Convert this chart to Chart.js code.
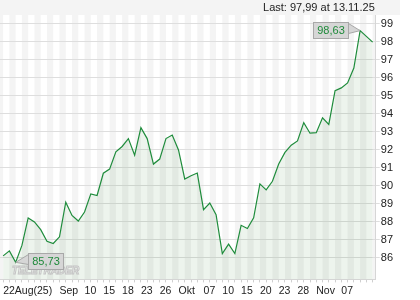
<!DOCTYPE html>
<html>
<head>
<meta charset="utf-8">
<script src="https://cdn.jsdelivr.net/npm/chart.js@4.4.1/dist/chart.umd.min.js"></script>
<style>
    html, body { margin: 0; padding: 0; background: #fff; }
    #wrap { width: 400px; height: 300px; }
</style>
</head>
<body>
<div id="wrap"><canvas id="chart" width="400" height="300"></canvas></div>
<script>
// trading days, 22.08.25 - 13.11.25
const dates = [
    '22.08.25', '25.08.25', '26.08.25', '27.08.25', '28.08.25', '29.08.25',
    '01.09.25', '02.09.25', '03.09.25', '04.09.25', '05.09.25',
    '08.09.25', '09.09.25', '10.09.25', '11.09.25', '12.09.25',
    '15.09.25', '16.09.25', '17.09.25', '18.09.25', '19.09.25',
    '22.09.25', '23.09.25', '24.09.25', '25.09.25', '26.09.25',
    '29.09.25', '30.09.25', '01.10.25', '02.10.25', '03.10.25',
    '06.10.25', '07.10.25', '08.10.25', '09.10.25', '10.10.25',
    '13.10.25', '14.10.25', '15.10.25', '16.10.25', '17.10.25',
    '20.10.25', '21.10.25', '22.10.25', '23.10.25', '24.10.25',
    '27.10.25', '28.10.25', '29.10.25', '30.10.25', '31.10.25',
    '03.11.25', '04.11.25', '05.11.25', '06.11.25', '07.11.25',
    '10.11.25', '11.11.25', '12.11.25', '13.11.25'
];
const closes = [
    86.09, 86.37, 85.73, 86.67, 88.20, 87.98,
    87.55, 86.90, 86.78, 87.15, 89.08,
    88.34, 88.03, 88.53, 89.54, 89.45,
    90.69, 90.92, 91.88, 92.18, 92.62,
    91.70, 93.23, 92.62, 91.20, 91.48,
    92.62, 92.82, 91.99, 90.37, 90.55,
    90.70, 88.66, 89.03, 88.38, 86.22,
    86.74, 86.22, 87.79, 87.61, 88.21,
    90.10, 89.76, 90.24, 91.20, 91.85,
    92.25, 92.49, 93.51, 92.92, 92.95,
    93.78, 93.41, 95.29, 95.44, 95.72,
    96.55, 98.63, 98.31, 97.99
];
// x tick labels (index into dates -> text)
const xTickIdx = [0, 9, 13, 16, 19, 22, 25, 28, 32, 35, 38, 41, 44, 47, 50, 54];
const xTickText = ['22Aug(25)', 'Sep', '10', '15', '18', '23', '26', 'Okt', '07', '10', '15', '20', '23', '28', 'Nov', '07'];
const yTicks = [86, 87, 88, 89, 90, 91, 92, 93, 94, 95, 96, 97, 98, 99];

const FONT = '"Liberation Sans", Arial, sans-serif';
const fmt = v => v.toFixed(2).replace('.', ',');

// striped background + header line
const backdrop = {
    id: 'backdrop',
    beforeDraw(chart) {
        const { ctx, chartArea: a, scales: { x } } = chart;
        const n = closes.length;
        ctx.save();
        ctx.fillStyle = '#fff';
        ctx.fillRect(0, 0, chart.width, chart.height);
        ctx.fillStyle = '#f4f4f4';
        ctx.fillRect(0, 0, chart.width, a.top);
        for (let i = -1; i < n; i++) {
            if (i % 2 === 0) continue;
            const x0 = i < 0 ? a.left : x.getPixelForValue(i);
            const x1 = i + 1 < n ? x.getPixelForValue(i + 1) : a.right;
            ctx.fillRect(x0, a.top, x1 - x0, a.bottom - a.top);
        }
        ctx.fillStyle = '#222';
        ctx.font = '11px ' + FONT;
        ctx.textAlign = 'right';
        ctx.textBaseline = 'middle';
        ctx.fillText('Last: ' + fmt(closes[n - 1]) + ' at ' + dates[n - 1], a.right - 1, 8);
        ctx.restore();
    }
};

// min / max callouts and watermark
const callouts = {
    id: 'callouts',
    afterDatasetsDraw(chart) {
        const { ctx, scales: { x, y } } = chart;
        const lo = closes.indexOf(Math.min(...closes));
        const hi = closes.indexOf(Math.max(...closes));

        ctx.save();
        ctx.font = 'bold italic 10px ' + FONT;
        ctx.textAlign = 'left';
        ctx.textBaseline = 'middle';
        ctx.lineWidth = 1;
        ctx.strokeStyle = '#c4c4c4';
        ctx.fillStyle = 'rgba(255,255,255,0.7)';
        ctx.fillText('TELETRADER', 12, 271);
        ctx.strokeText('TELETRADER', 12, 271);
        ctx.restore();

        const draw = (idx, toRight) => {
            const px = x.getPixelForValue(idx);
            const py = y.getPixelForValue(closes[idx]);
            const w = 35, h = 16;
            const top = Math.round(py - 9) + 0.5;
            const left = toRight ? Math.round(px + 12) + 0.5 : Math.round(px - 12 - w) + 0.5;
            const edge = toRight ? left : left + w;
            ctx.save();
            ctx.fillStyle = '#d6d6d6';
            ctx.strokeStyle = '#a8a8a8';
            ctx.lineWidth = 1;
            ctx.beginPath();
            ctx.moveTo(edge, top + 1);
            ctx.lineTo(px, py);
            ctx.lineTo(edge, top + 11);
            ctx.closePath();
            ctx.fill();
            ctx.stroke();
            ctx.fillRect(left, top, w, h);
            ctx.strokeRect(left, top, w, h);
            ctx.fillStyle = '#1f8a3a';
            ctx.font = '11px ' + FONT;
            ctx.textAlign = 'center';
            ctx.textBaseline = 'middle';
            ctx.fillText(fmt(closes[idx]), left + w / 2, top + h / 2 + 0.5);
            ctx.restore();
        };
        draw(lo, true);
        draw(hi, false);
    }
};

Chart.defaults.font.family = FONT;
Chart.defaults.font.size = 11;
Chart.defaults.color = '#222';

new Chart(document.getElementById('chart'), {
    type: 'line',
    data: {
        labels: dates,
        datasets: [{
            data: closes,
            borderColor: '#1f8c3c',
            borderWidth: 1.2,
            backgroundColor: 'rgba(30,120,30,0.08)',
            fill: 'start',
            pointRadius: 0,
            tension: 0
        }]
    },
    options: {
        responsive: false,
        animation: false,
        devicePixelRatio: 1,
        layout: { padding: { top: 15, right: 6, bottom: 1, left: 0 } },
        plugins: {
            legend: { display: false },
            tooltip: { enabled: false }
        },
        scales: {
            x: {
                offset: true,
                grid: {
                    offset: false,
                    drawOnChartArea: false,
                    drawTicks: true,
                    tickLength: 3,
                    color: '#cfcfcf'
                },
                border: { color: '#d6d6d6' },
                ticks: {
                    autoSkip: false,
                    maxRotation: 0,
                    minRotation: 0,
                    align: 'start',
                    padding: 2,
                    font: { size: 10.5 },
                    callback: (v, i) => {
                        const k = xTickIdx.indexOf(i);
                        return k >= 0 ? xTickText[k] : '';
                    }
                }
            },
            y: {
                position: 'right',
                min: 84.78,
                max: 99.5,
                afterBuildTicks: s => { s.ticks = yTicks.map(v => ({ value: v })); },
                grid: { color: '#dedede', tickLength: 4 },
                border: { color: '#d6d6d6' },
                ticks: {
                    padding: 1,
                    callback: v => String(v)
                }
            }
        }
    },
    plugins: [backdrop, callouts]
});
</script>
</body>
</html>
